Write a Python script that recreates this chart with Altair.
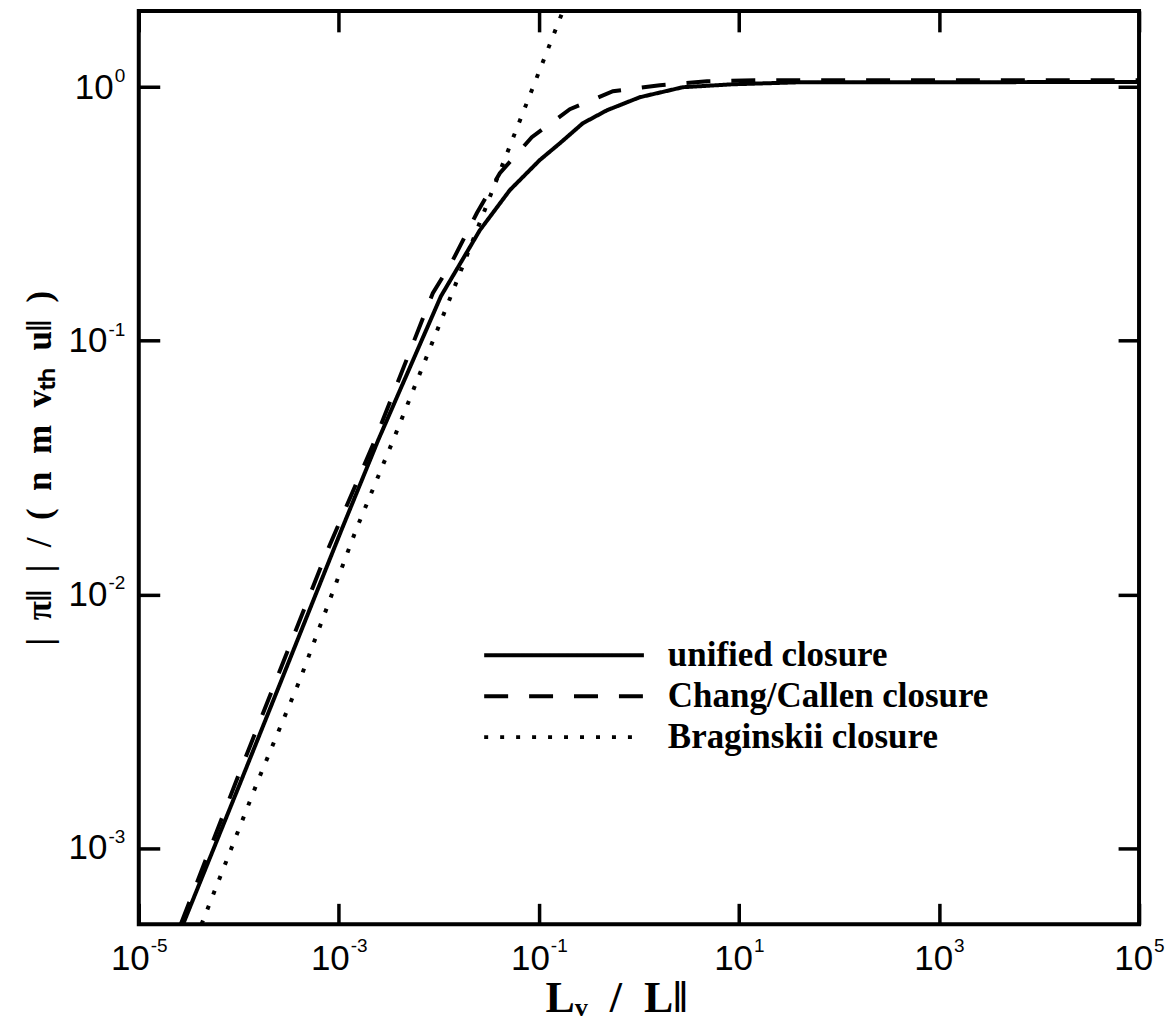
import altair as alt
import pandas as pd

# ---------------- data ----------------
series_names = ["unified closure", "Chang/Callen closure", "Braginskii closure"]

unified_x = [2.77e-5, 1.06e-4, 2.67e-4, 1.06e-3, 2.47e-3, 1.05e-2, 2.57e-2, 5.13e-2,
             0.102, 0.162, 0.275, 0.479, 1.02, 2.75, 8.7, 40.7, 1e5]
unified_y = [5.0e-4, 1.85e-3, 4.59e-3, 1.79e-2, 4.05e-2, 0.15, 0.273, 0.393,
             0.516, 0.601, 0.721, 0.811, 0.913, 1.0, 1.027, 1.046, 1.048]

chang_x = [2.63e-5, 9.5e-5, 7.5e-4, 2.29e-3, 8.7e-3, 1.38e-2, 2.4e-2, 4.07e-2,
           8.5e-2, 0.204, 0.55, 1.62, 4.8, 15.1, 1e5]
chang_y = [5.0e-4, 1.85e-3, 1.456e-2, 4.05e-2, 0.154, 0.208, 0.319, 0.458,
           0.635, 0.819, 0.964, 1.018, 1.056, 1.066, 1.066]

brag_x = [4.24e-5, 1.56e-4, 4.07e-4, 1.48e-3, 3.49e-3, 1.39e-2, 0.174]
brag_y = [5.0e-4, 1.85e-3, 4.59e-3, 1.79e-2, 4.05e-2, 0.158, 2.0]

x_ticks = [1e-5, 1e-3, 1e-1, 1e1, 1e3, 1e5]
x_tick_exps = [-5, -3, -1, 1, 3, 5]
x_exp_labels = ["-5", "-3", "-1", "1", "3", "5"]
y_ticks = [1e-3, 1e-2, 1e-1, 1e0]
y_tick_exps = [-3, -2, -1, 0]
y_exp_labels = ["-3", "-2", "-1", "0"]
base_label = "10"

x_domain = [1e-5, 1e5]
y_domain = [5e-4, 2.0]

x_title = "L\u1d65\u2002/\u2002L\u2016"
y_title = "|\u2002\u03c0\u2016\u2002|\u2002/\u2002(\u2002n\u2002m\u2002v\u209c\u2095\u2002u\u2016\u2002)"

# ---------------- table ----------------
rows = []
for name, xs, ys in zip(series_names, [unified_x, chang_x, brag_x], [unified_y, chang_y, brag_y]):
    for i, (xv, yv) in enumerate(zip(xs, ys)):
        rows.append({"series": name, "x": xv, "y": yv, "order": i})
df = pd.DataFrame(rows)


def label_expr(exps, labels):
    parts = [f"round(log(datum.value)/LN10) == {e} ? '{lab}'" for e, lab in zip(exps, labels)]
    return " : ".join(parts) + " : ''"


TICK = 21
TICKW = 3.5
SANS = "Liberation Sans"
SERIF = "Liberation Serif"
LFS = 35     # base "10" font size
EFS = 19     # exponent font size

xscale = alt.Scale(type="log", domain=x_domain, nice=False)
yscale = alt.Scale(type="log", domain=y_domain, nice=False)

common = dict(grid=False, labelFlush=False, labelOverlap=False, labelColor="black")

# main layer: curves, "10" labels, titles, bottom/left inward ticks
x_main = alt.X("x:Q", scale=xscale, axis=alt.Axis(
    orient="bottom", values=x_ticks, labelExpr=f"'{base_label}'",
    offset=-TICK, tickSize=TICK, tickWidth=TICKW, tickColor="black", domain=False,
    labelPadding=17, labelFont=SANS, labelFontSize=LFS, labelAlign="right",
    labelOffset={"condition": {"test": "datum.value < 1", "value": 10.5}, "value": 13.6},
    title=x_title, titleFont=SERIF, titleFontWeight="bold", titleFontSize=44,
    titleColor="black", titlePadding=0, titleX=478, **common))
y_main = alt.Y("y:Q", scale=yscale, axis=alt.Axis(
    orient="left", values=y_ticks, labelExpr=f"'{base_label}'",
    offset=-TICK, tickSize=TICK, tickWidth=TICKW, tickColor="black", domain=False,
    labelFont=SANS, labelFontSize=LFS, labelAlign="right",
    labelPadding={"condition": {"test": "datum.value < 0.5", "value": 32}, "value": 25.6},
    title=y_title, titleFont=SERIF, titleFontWeight="bold", titleFontSize=35,
    titleColor="black", titlePadding=10, **common))

lines = alt.Chart(df).mark_line(color="black", strokeWidth=4, clip=True, strokeCap="butt").encode(
    x=x_main,
    y=y_main,
    order=alt.Order("order:Q"),
    strokeDash=alt.StrokeDash(
        "series:N",
        scale=alt.Scale(domain=series_names, range=[[1, 0], [24, 21], [4, 12]]),
        legend=alt.Legend(
            title=None, orient="none", legendX=344, legendY=628, padding=0,
            symbolType="stroke", symbolSize=25600, symbolStrokeWidth=4,
            symbolStrokeColor="black", clipHeight=35, rowPadding=5,
            labelFont=SERIF, labelFontWeight="bold", labelFontSize=35,
            labelColor="black", labelOffset=22, labelLimit=600,
        ),
    ),
)

# mirrored inward ticks on top and right
mirror = alt.Chart(df).mark_line(strokeOpacity=0).encode(
    x=alt.X("x:Q", scale=xscale, axis=alt.Axis(
        orient="top", values=x_ticks, labels=False, title=None,
        offset=-TICK, tickSize=TICK, tickWidth=TICKW, tickColor="black",
        domain=False, grid=False)),
    y=alt.Y("y:Q", scale=yscale, axis=alt.Axis(
        orient="right", values=y_ticks, labels=False, title=None,
        offset=-TICK, tickSize=TICK, tickWidth=TICKW, tickColor="black",
        domain=False, grid=False)),
    detail="series:N",
)

# exponent labels (superscripts)
expo = alt.Chart(df).mark_line(strokeOpacity=0).encode(
    x=alt.X("x:Q", scale=xscale, axis=alt.Axis(
        orient="bottom", values=x_ticks, labelExpr=label_expr(x_tick_exps, x_exp_labels),
        ticks=False, domain=False, title=None, labelPadding=12,
        labelFont=SANS, labelFontSize=EFS, labelAlign="left",
        labelOffset={"condition": {"test": "datum.value < 1", "value": 11.5}, "value": 14.6},
        **common)),
    y=alt.Y("y:Q", scale=yscale, axis=alt.Axis(
        orient="left", values=y_ticks, labelExpr=label_expr(y_tick_exps, y_exp_labels),
        ticks=False, domain=False, title=None, labelPadding=14,
        labelFont=SANS, labelFontSize=EFS, labelAlign="right", labelOffset=-11.6,
        **common)),
    detail="series:N",
)

chart = alt.layer(lines, mirror, expo).resolve_axis(
    x="independent", y="independent"
).properties(
    width=1002, height=915,
    autosize=alt.AutoSizeParams(type="none"),
    padding={"left": 131, "top": 2, "right": 26, "bottom": 106},
    background="white",
).configure_view(stroke="black", strokeWidth=4)

chart.save("out.html", embed_options={"renderer": "svg", "actions": False})
